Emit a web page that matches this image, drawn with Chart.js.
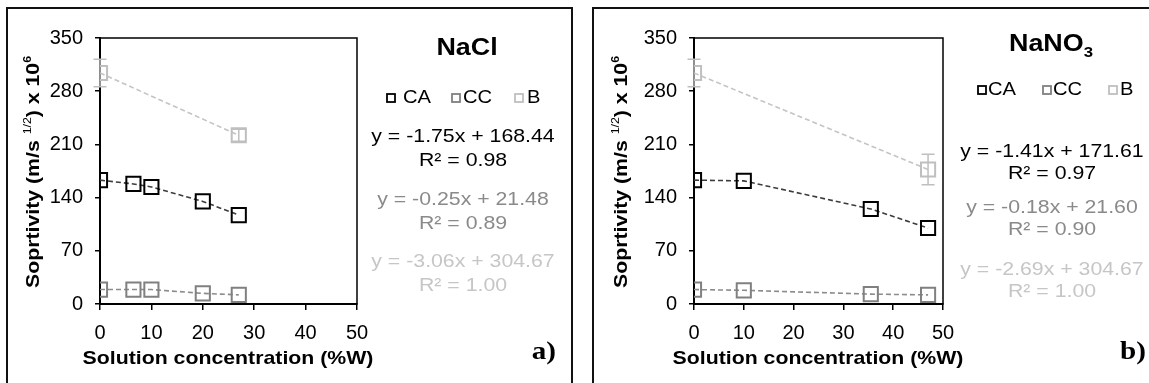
<!DOCTYPE html>
<html>
<head>
<meta charset="utf-8">
<script src="https://cdn.jsdelivr.net/npm/chart.js@4.4.1/dist/chart.umd.min.js"></script>
<style>
  body { margin: 0; background: #fff; width: 1149px; height: 383px; overflow: hidden; position: relative; }
  .panel { position: absolute; top: 7px; height: 400px; border: 2px solid #111; box-sizing: border-box; }
  #panelA { left: 6px; width: 567px; }
  #panelB { left: 592px; width: 580px; }
  canvas { position: absolute; left: 0; top: 0; }
</style>
</head>
<body>
<div class="panel" id="panelA"><canvas id="chartA" width="563" height="374"></canvas></div>
<div class="panel" id="panelB"><canvas id="chartB" width="555" height="374"></canvas></div>
<script>
// NaCl (panel a)
const naclConc = [0, 6.5, 10, 20, 27];
const naclCA = [163, 158, 154, 135, 117];
const naclCC = [19, 19, 19, 14, 12];
const naclBConc = [0, 27];
const naclB = [304, 222];
const naclBErr = [18, 8];
const naclEq = ['y = -1.75x + 168.44', 'y = -0.25x + 21.48', 'y = -3.06x + 304.67'];
const naclR2 = ['R² = 0.98', 'R² = 0.89', 'R² = 1.00'];

// NaNO3 (panel b)
const nano3Conc = [0, 10, 35.5, 47];
const nano3CA = [163, 162, 125, 100];
const nano3CC = [19, 18, 13, 12];
const nano3BConc = [0, 47];
const nano3B = [304, 177];
const nano3BErr = [18, 20];
const nano3Eq = ['y = -1.41x + 171.61', 'y = -0.18x + 21.60', 'y = -2.69x + 304.67'];
const nano3R2 = ['R² = 0.97', 'R² = 0.90', 'R² = 1.00'];

const xTicks = [0, 10, 20, 30, 40, 50];
const yTicks = [0, 70, 140, 210, 280, 350];
const seriesNames = ['CA', 'CC', 'B'];
const markerColors = ['#000000', '#808080', '#bfbfbf'];
const lineColors = ['#3c3c3c', '#8c8c8c', '#c4c4c4'];
const eqColors = ['#000000', '#8a8a8a', '#c6c6c6'];

const FONT = '"Liberation Sans", Arial, sans-serif';
const SX = 1.12; // the original text is a bit wide

function pts(xs, ys) {
  return xs.map((x, i) => ({ x: x, y: ys[i] }));
}

function series(idx, data, errors) {
  return {
    label: seriesNames[idx],
    data: data,
    errors: errors,
    showLine: true,
    borderColor: lineColors[idx],
    borderWidth: 1.6,
    borderDash: [5, 3],
    pointStyle: 'rect',
    pointRadius: 10,
    pointHoverRadius: 10,
    pointBorderWidth: 2,
    pointBorderColor: markerColors[idx],
    pointBackgroundColor: 'rgba(0,0,0,0)'
  };
}

function putText(ctx, s, x, y, font, color, align) {
  ctx.save();
  ctx.translate(x, y);
  ctx.scale(SX, 1);
  ctx.font = font;
  ctx.fillStyle = color;
  ctx.textAlign = align || 'center';
  ctx.textBaseline = 'middle';
  ctx.fillText(s, 0, 0);
  ctx.restore();
}

// text made of parts (for superscripts/subscripts), centred on x,y
function putRich(ctx, parts, x, y, rot, color) {
  ctx.save();
  ctx.translate(x, y);
  ctx.rotate(rot);
  ctx.scale(SX, 1);
  ctx.fillStyle = color;
  ctx.textAlign = 'left';
  ctx.textBaseline = 'alphabetic';
  let total = 0;
  parts.forEach(p => { ctx.font = p.font; p.w = ctx.measureText(p.t).width; total += p.w; });
  let cx = -total / 2;
  parts.forEach(p => { ctx.font = p.font; ctx.fillText(p.t, cx, p.dy); cx += p.w; });
  ctx.restore();
}

const boxPlugin = {
  id: 'box',
  beforeDatasetsDraw(chart) {
    const a = chart.chartArea, ctx = chart.ctx;
    ctx.save();
    ctx.strokeStyle = '#000';
    ctx.lineWidth = 1.5;
    ctx.strokeRect(a.left, a.top, a.right - a.left, a.bottom - a.top);
    ctx.restore();
  }
};

const errorBarPlugin = {
  id: 'errorBars',
  afterDatasetsDraw(chart) {
    const ctx = chart.ctx, ys = chart.scales.y;
    chart.data.datasets.forEach((ds, i) => {
      if (!ds.errors) return;
      const meta = chart.getDatasetMeta(i);
      ctx.save();
      ctx.strokeStyle = ds.pointBorderColor;
      ctx.lineWidth = 1.5;
      meta.data.forEach((el, j) => {
        const v = ds.data[j].y, e = ds.errors[j];
        const top = ys.getPixelForValue(v + e), bot = ys.getPixelForValue(v - e);
        ctx.beginPath();
        ctx.moveTo(el.x, top); ctx.lineTo(el.x, bot);
        ctx.moveTo(el.x - 6.5, top); ctx.lineTo(el.x + 6.5, top);
        ctx.moveTo(el.x - 6.5, bot); ctx.lineTo(el.x + 6.5, bot);
        ctx.stroke();
      });
      ctx.restore();
    });
  }
};

const sideTextPlugin = {
  id: 'sideText',
  afterDraw(chart) {
    const o = chart.options.plugins.sideText, ctx = chart.ctx;
    // axis titles
    putRich(ctx, [
      { t: 'Soprtivity (m/s ', font: 'bold 19px ' + FONT, dy: 7 },
      { t: '1/2', font: '11px ' + FONT, dy: -1 },
      { t: ') x 10', font: 'bold 19px ' + FONT, dy: 7 },
      { t: '6', font: 'bold 11px ' + FONT, dy: -1 }
    ], o.yTitle[0], o.yTitle[1], -Math.PI / 2, '#000');
    putText(ctx, 'Solution concentration (%W)', o.xTitle[0], o.xTitle[1], 'bold 19px ' + FONT, '#000');
    // salt name
    putRich(ctx, o.title.map(p => ({ t: p.t, font: 'bold ' + p.size + 'px ' + FONT, dy: p.dy })),
      o.titlePos[0], o.titlePos[1], 0, '#000');
    // legend
    seriesNames.forEach((name, i) => {
      const mx = o.legendMarkX[i], my = o.legendY;
      ctx.save();
      ctx.strokeStyle = markerColors[i];
      ctx.lineWidth = 1.8;
      ctx.strokeRect(mx - 4, my - 4, 8, 8);
      ctx.restore();
      putText(ctx, name, o.legendTextX[i], my, '18px ' + FONT, '#000', 'left');
    });
    // trend line equations
    o.eq.forEach((s, i) => {
      putText(ctx, s, o.eqX, o.eqY[i], '19px ' + FONT, eqColors[i]);
      putText(ctx, o.r2[i], o.eqX, o.eqY[i] + o.r2Gap, '19px ' + FONT, eqColors[i]);
    });
    // panel letter
    putText(ctx, o.letter, o.letterPos[0], o.letterPos[1], 'bold 26px "Liberation Serif", "Times New Roman", serif', '#000', 'right');
  }
};

function makeChart(id, conc, ca, cc, bConc, b, bErr, yWidth, padRight, side) {
  return new Chart(document.getElementById(id), {
    type: 'scatter',
    data: {
      datasets: [
        series(0, pts(conc, ca)),
        series(1, pts(conc, cc)),
        series(2, pts(bConc, b), bErr)
      ]
    },
    options: {
      responsive: false,
      animation: false,
      devicePixelRatio: 1,
      layout: { padding: { left: 0, top: 29, right: padRight, bottom: 0 } },
      plugins: {
        legend: { display: false },
        tooltip: { enabled: false },
        sideText: side
      },
      scales: {
        x: {
          type: 'linear', min: 0, max: 50,
          afterBuildTicks: s => { s.ticks = xTicks.map(v => ({ value: v })); },
          afterFit: s => { s.height = 79; },
          ticks: { color: '#000', padding: 11, font: { family: FONT, size: 20 } },
          grid: { drawOnChartArea: false, drawTicks: true, tickLength: 6, color: '#000', lineWidth: 1.5 },
          border: { color: '#000', width: 2 }
        },
        y: {
          type: 'linear', min: 0, max: 350,
          afterBuildTicks: s => { s.ticks = yTicks.map(v => ({ value: v })); },
          afterFit: s => { s.width = yWidth; },
          ticks: { color: '#000', padding: 12, font: { family: FONT, size: 20 } },
          grid: { drawOnChartArea: false, drawTicks: true, tickLength: 5, color: '#000', lineWidth: 1.5 },
          border: { color: '#000', width: 2 }
        }
      }
    },
    plugins: [boxPlugin, errorBarPlugin, sideTextPlugin]
  });
}

makeChart('chartA', naclConc, naclCA, naclCC, naclBConc, naclB, naclBErr, 92, 214, {
  yTitle: [24, 163], xTitle: [220, 350],
  title: [{ t: 'NaCl', size: 24, dy: 9 }], titlePos: [459, 37],
  legendY: 89, legendMarkX: [383, 448, 511], legendTextX: [395, 455, 519],
  eq: naclEq, r2: naclR2, eqX: 455, eqY: [128, 191, 253], r2Gap: 24,
  letter: 'a)', letterPos: [548, 343]
});

makeChart('chartB', nano3Conc, nano3CA, nano3CC, nano3BConc, nano3B, nano3BErr, 100, 206, {
  yTitle: [26, 163], xTitle: [224, 350],
  title: [{ t: 'NaNO', size: 24, dy: 9 }, { t: '3', size: 15, dy: 15 }], titlePos: [457, 33],
  legendY: 81, legendMarkX: [388, 453, 519], legendTextX: [394, 459, 526],
  eq: nano3Eq, r2: nano3R2, eqX: 458, eqY: [143, 199, 261], r2Gap: 22,
  letter: 'b)', letterPos: [552, 343]
});
</script>
</body>
</html>
